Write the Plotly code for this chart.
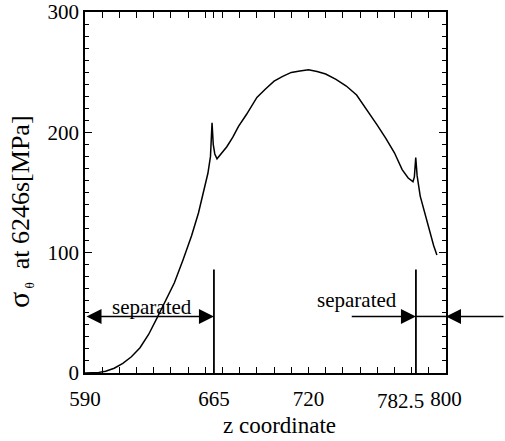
import plotly.graph_objects as go

# stress curve
z_coord = [590, 594, 598, 602, 607, 612, 617, 622, 627, 632, 637, 642, 647, 652,
           656, 659, 661.5, 663, 663.9, 664.6, 665.5, 666.8, 669, 672.5, 676,
           679.3, 684, 690, 695, 700, 705, 710, 715, 720, 725, 730, 736, 742,
           748, 754, 760, 765, 770, 774.5, 778, 780.8, 781.6, 782.4, 783.2,
           785, 787.9, 790.9, 792.8, 794.7]
sigma = [0, 0, 0.5, 1.5, 4, 8, 13.5, 21, 32, 46, 61, 75, 94, 114,
         133, 150, 166, 180, 208, 190, 182, 178, 182, 188, 196,
         205, 215, 229, 236, 242.5, 246.5, 249.8, 251, 252, 250.5, 248.5, 244, 238.5,
         231, 219, 206, 195, 183, 169, 162, 159, 163, 179, 164,
         147, 131, 116, 106, 98]

x_tick_vals = [590, 665, 720, 800]
x_tick_text = ["590", "665", "720", "800"]
y_tick_vals = [0, 100, 200, 300]
boundary_z = [665, 782.5]
boundary_top = 86
arrow_y = 47
label_left = (628.8, 55)
label_right = (748.2, 60.5)

FONT = "Liberation Serif"

fig = go.Figure()
fig.add_trace(go.Scatter(x=z_coord, y=sigma, mode="lines",
                         line=dict(color="black", width=1.5),
                         showlegend=False, hoverinfo="skip"))

# separation boundaries
for zb in boundary_z:
    fig.add_shape(type="line", xref="x", yref="y", x0=zb, x1=zb, y0=0, y1=boundary_top,
                  line=dict(color="black", width=1.8))
fig.add_shape(type="line", xref="x", yref="y", x0=boundary_z[1], x1=800,
              y0=arrow_y, y1=arrow_y, line=dict(color="black", width=1.5))

arrow = dict(text="", showarrow=True, arrowhead=2, arrowsize=2, arrowwidth=1.5,
             arrowcolor="black", xref="x", yref="y")
# double arrow 590 -> 665
fig.add_annotation(x=boundary_z[0], y=arrow_y, ax=590, ay=arrow_y, axref="x", ayref="y",
                   arrowside="end+start", **arrow)
# arrow into 782.5
fig.add_annotation(x=boundary_z[1], y=arrow_y, ax=744.3, ay=arrow_y, axref="x", ayref="y",
                   **arrow)
# arrow from outside into 800
fig.add_annotation(x=800, y=arrow_y, ax=60, ay=0, **arrow)

for (lx, ly) in (label_left, label_right):
    fig.add_annotation(x=lx, y=ly, text="separated", showarrow=False, xref="x", yref="y",
                       xanchor="center", yanchor="middle",
                       font=dict(family=FONT, size=21, color="black"))

# x tick label 782.5 sits left of its tick
fig.add_annotation(x=782.5, y=0, xref="x", yref="y", text="782.5", showarrow=False,
                   xanchor="right", yanchor="top", xshift=10, yshift=-14,
                   font=dict(family=FONT, size=21, color="black"))

fig.add_annotation(x=0.54, y=-0.145, xref="paper", yref="paper", text="z coordinate",
                   xanchor="center", yanchor="middle", showarrow=False,
                   font=dict(family=FONT, size=23, color="black"))
fig.add_annotation(x=-0.182, y=0.447, xref="paper", yref="paper", textangle=-90,
                   xanchor="center", yanchor="middle",
                   text="<span style='font-size:30px'>σ</span><sub><span style='font-size:13px'> θ</span></sub>  at 6246s[MPa]",
                   showarrow=False, font=dict(family=FONT, size=26, color="black"))

fig.update_xaxes(range=[590, 800], showline=True, linecolor="black", linewidth=1.5,
                 mirror="ticks", ticks="inside", ticklen=6, tickcolor="black",
                 tickvals=x_tick_vals, ticktext=x_tick_text, automargin=False,
                 ticklabelstandoff=6,
                 minor=dict(ticks="inside", ticklen=6, tick0=590, dtick=10, tickcolor="black"),
                 showgrid=False, zeroline=False,
                 tickfont=dict(family=FONT, size=21, color="black"))
fig.update_yaxes(range=[0, 300], showline=True, linecolor="black", linewidth=1.5,
                 mirror="ticks", ticks="inside", ticklen=7, tickcolor="black",
                 tickvals=y_tick_vals, automargin=False,
                 minor=dict(ticks="inside", ticklen=4, tick0=0, dtick=10, tickcolor="black"),
                 showgrid=False, zeroline=False,
                 tickfont=dict(family=FONT, size=21, color="black"))

fig.update_layout(width=505, height=441, margin=dict(l=85, r=59, t=12, b=68),
                  font=dict(family=FONT, color="black"),
                  plot_bgcolor="white", paper_bgcolor="white", showlegend=False)

# page body has an 8px default margin; drop it so the figure sits at the corner
fig.write_html("out.html", config={"displayModeBar": False},
               post_script="document.body.style.margin='0';")
